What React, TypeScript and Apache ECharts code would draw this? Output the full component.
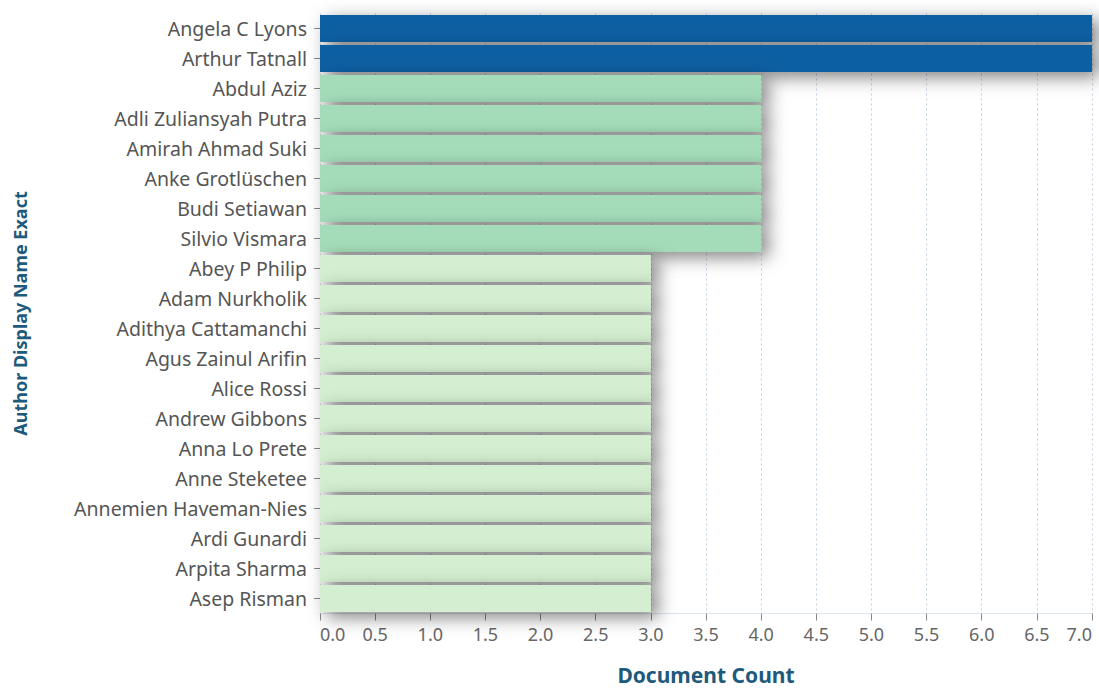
import React, { useEffect, useRef } from "react";
import * as echarts from "echarts";

const authors = [
  "Angela C Lyons",
  "Arthur Tatnall",
  "Abdul Aziz",
  "Adli Zuliansyah Putra",
  "Amirah Ahmad Suki",
  "Anke Grotlüschen",
  "Budi Setiawan",
  "Silvio Vismara",
  "Abey P Philip",
  "Adam Nurkholik",
  "Adithya Cattamanchi",
  "Agus Zainul Arifin",
  "Alice Rossi",
  "Andrew Gibbons",
  "Anna Lo Prete",
  "Anne Steketee",
  "Annemien Haveman-Nies",
  "Ardi Gunardi",
  "Arpita Sharma",
  "Asep Risman",
];
const documentCounts = [7, 7, 4, 4, 4, 4, 4, 4, 3, 3, 3, 3, 3, 3, 3, 3, 3, 3, 3, 3];

const colorFor = (v: number) => (v >= 7 ? "#0b5fa3" : v >= 4 ? "#a4dcb9" : "#d3eed0");

export default function App() {
  const ref = useRef<HTMLDivElement>(null);
  useEffect(() => {
    if (!ref.current) return;
    const chart = echarts.init(ref.current, null, { renderer: "svg" });
    const font = "'Noto Sans', sans-serif";
    chart.setOption({
      animation: false,
      backgroundColor: "#ffffff",
      grid: {
        left: 320,
        right: 7,
        top: 13.5,
        bottom: 74.5,
        containLabel: false,
        outerBoundsMode: "none",
      },
      xAxis: {
        type: "value",
        min: 0,
        max: 7,
        interval: 0.5,
        name: "Document Count",
        nameLocation: "middle",
        nameGap: 51,
        nameTextStyle: { color: "#1d5a7c", fontSize: 21, fontWeight: "bold", fontFamily: font },
        axisLine: { show: true, lineStyle: { color: "#dbe4ef", width: 1 } },
        axisTick: { show: true, length: 7, lineStyle: { color: "#888888" } },
        axisLabel: {
          color: "#666666",
          fontSize: 18,
          fontFamily: font,
          margin: 11,
          formatter: (v: number) => v.toFixed(1),
          alignMinLabel: "left",
          alignMaxLabel: "right",
        },
        splitLine: { show: true, lineStyle: { color: "#c3d0e0", type: [2, 3], width: 1 } },
      },
      yAxis: {
        type: "category",
        data: authors,
        inverse: true,
        offset: 5,
        name: "Author Display Name Exact",
        nameLocation: "middle",
        nameGap: 286,
        nameTextStyle: { color: "#1d5a7c", fontSize: 18, fontWeight: "bold", fontFamily: font },
        axisLine: { show: false },
        axisTick: { show: true, length: 6, alignWithLabel: true, lineStyle: { color: "#888888" } },
        axisLabel: { color: "#555555", fontSize: 19.5, fontFamily: font, margin: 8 },
        splitLine: { show: false },
      },
      series: [
        {
          type: "bar",
          data: documentCounts.map((v) => ({ value: v, itemStyle: { color: colorFor(v) } })),
          barCategoryGap: "10%",
          itemStyle: {
            shadowColor: "rgba(0,0,0,0.5)",
            shadowBlur: 18,
            shadowOffsetX: 7,
            shadowOffsetY: 5,
          },
        },
      ],
    });
    return () => chart.dispose();
  }, []);
  return (
    <div
      ref={ref}
      style={{ position: "fixed", left: 0, top: 0, width: 1099, height: 688 }}
    />
  );
}
